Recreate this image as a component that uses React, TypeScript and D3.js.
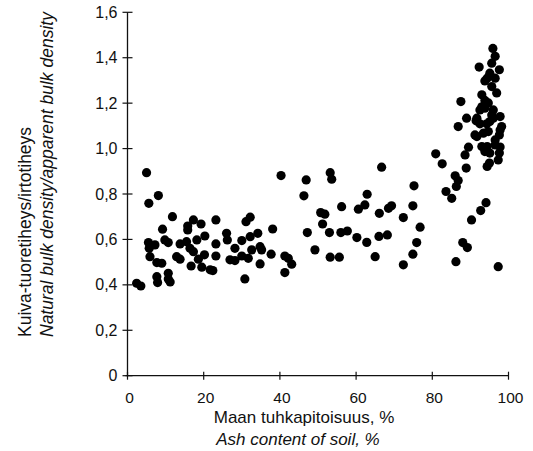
import React from "react";
import * as d3 from "d3";

// Ash content of soil (%) per sample, in groups
const ashLow = [5.0,8.1,5.6,11.8,17.3,19.3,15.8,15.8,9.2,20.3,23.2,5.5,7.2,9.8,10.7,13.8,15.5,18.2,5.7,5.9,16.4,17.3,20.2,12.9,13.8,18.6,16.7,19.5,21.7,9.0,7.7,10.7,10.7,11.2,7.7,7.9,2.4,3.5];
const ratioLow = [0.894,0.793,0.759,0.700,0.686,0.668,0.659,0.642,0.645,0.615,0.686,0.586,0.576,0.598,0.586,0.580,0.590,0.598,0.561,0.524,0.561,0.546,0.532,0.524,0.513,0.513,0.483,0.478,0.466,0.495,0.498,0.451,0.426,0.413,0.436,0.410,0.407,0.395];

const ashMid = [40.3,31.1,32.2,38.1,26.0,26.2,30.0,32.2,34.2,23.2,28.2,34.8,32.6,35.2,23.2,26.9,28.2,30.0,31.7,37.7,41.3,42.2,43.1,41.3,34.8,22.4,30.8];
const ratioMid = [0.881,0.678,0.698,0.646,0.627,0.598,0.595,0.612,0.627,0.580,0.561,0.568,0.554,0.554,0.527,0.510,0.507,0.527,0.517,0.535,0.527,0.517,0.491,0.454,0.492,0.463,0.426];

const ashHigh = [53.2,53.6,46.9,46.3,62.9,56.2,60.6,62.3,66.7,66.1,50.7,51.8,51.2,47.2,53.0,56.0,57.7,60.2,62.8,66.0,68.2,49.2,53.2,55.6,65.0,68.5,69.3,80.9,82.6,75.2,74.9,72.4,76.8,75.9,74.9,72.4];
const ratioHigh = [0.894,0.865,0.862,0.792,0.799,0.744,0.733,0.752,0.918,0.715,0.718,0.711,0.668,0.630,0.630,0.630,0.637,0.608,0.587,0.613,0.620,0.554,0.522,0.522,0.524,0.737,0.748,0.977,0.933,0.836,0.748,0.696,0.654,0.586,0.535,0.488];

const ashMineral = [95.9,96.5,92.3,97.6,95.6,95.1,94.4,96.5,93.8,95.6,96.9,93.0,93.8,94.7,93.0,87.5,92.5,93.8,96.0,95.6,96.0,91.7,97.8,89.0,91.5,92.5,95.1,86.8,94.3,97.8,98.2,91.7,93.4,94.7,96.5,97.6,91.2,93.0,94.4,96.5,97.8,89.5,88.6,93.8,95.1,97.6,97.3,95.0,94.4,88.9,86.0,86.8,86.3,83.6,85.1,94.1,92.7,90.3,88.0,89.2,86.2,97.3];
const ratioMineral = [1.441,1.406,1.359,1.347,1.376,1.332,1.310,1.310,1.298,1.273,1.245,1.237,1.212,1.201,1.184,1.207,1.170,1.178,1.170,1.148,1.133,1.134,1.141,1.134,1.122,1.109,1.119,1.097,1.109,1.082,1.097,1.053,1.068,1.075,1.038,1.060,1.060,1.009,1.009,1.016,1.007,1.006,0.972,0.987,0.980,0.980,0.950,0.936,0.921,0.914,0.880,0.859,0.833,0.811,0.781,0.762,0.727,0.686,0.586,0.564,0.502,0.480];

const xTicks = [0, 20, 40, 60, 80, 100];
const yTicks = [0, 0.2, 0.4, 0.6, 0.8, 1.0, 1.2, 1.4, 1.6];

const xTitle = "Maan tuhkapitoisuus, %";
const xTitleEn = "Ash content of soil, %";
const yTitle = "Kuiva-tuoretiheys/irtotiheys";
const yTitleEn = "Natural bulk density/apparent bulk density";

const FONT = "'Liberation Sans', Arial, Helvetica, sans-serif";

export default function App() {
  const x = d3.scaleLinear().domain([0, 100]).range([127.5, 508.5]);
  const y = d3.scaleLinear().domain([0, 1.6]).range([375.7, 12.3]);
  const ash = [...ashLow, ...ashMid, ...ashHigh, ...ashMineral];
  const ratio = [...ratioLow, ...ratioMid, ...ratioHigh, ...ratioMineral];
  const pts = ash.map((a, i) => ({ a, r: ratio[i] }));
  const fmt = (v: number) => (v === 0 ? "0" : d3.format(".1f")(v).replace(".", ","));
  const ink = "#111";

  return (
    <svg width={533} height={451} style={{ position: "absolute", left: 0, top: 0, background: "#fff" }} fontFamily={FONT}>
      <rect width={533} height={451} fill="#fff" />
      {/* axes */}
      <line x1={x(0)} x2={x(0)} y1={y(1.6)} y2={y(0)} stroke={ink} strokeWidth={1.3} />
      <line x1={x(0) - 2} x2={x(100)} y1={y(0)} y2={y(0)} stroke={ink} strokeWidth={1.3} />
      {yTicks.map((t) => (
        <g key={"y" + t}>
          <line x1={x(0) - 5} x2={x(0) + 5} y1={y(t)} y2={y(t)} stroke={ink} strokeWidth={1.2} />
          <text x={x(0) - 10} y={y(t)} dy="0.35em" textAnchor="end" fontSize={16} fill={ink}>
            {fmt(t)}
          </text>
        </g>
      ))}
      {xTicks.map((t) => (
        <g key={"x" + t}>
          <line x1={x(t)} x2={x(t)} y1={y(0) - 4} y2={y(0) + 4} stroke={ink} strokeWidth={1.2} />
          <text x={x(t) + 2} y={402.5} textAnchor="middle" fontSize={15.5} fill={ink}>
            {t}
          </text>
        </g>
      ))}
      {/* points */}
      {pts.map((p, i) => (
        <circle key={i} cx={x(p.a)} cy={y(p.r)} r={4.6} fill="#000" />
      ))}
      {/* titles */}
      <text x={304} y={423} textAnchor="middle" fontSize={17} fill={ink}>{xTitle}</text>
      <text x={298} y={445} textAnchor="middle" fontSize={17} fontStyle="italic" fill={ink}>{xTitleEn}</text>
      <text transform="translate(31,337) rotate(-90)" textAnchor="start" fontSize={17.5} fill={ink}>{yTitle}</text>
      <text transform="translate(53,337) rotate(-90)" textAnchor="start" fontSize={17.5} fontStyle="italic" fill={ink}>{yTitleEn}</text>
    </svg>
  );
}
